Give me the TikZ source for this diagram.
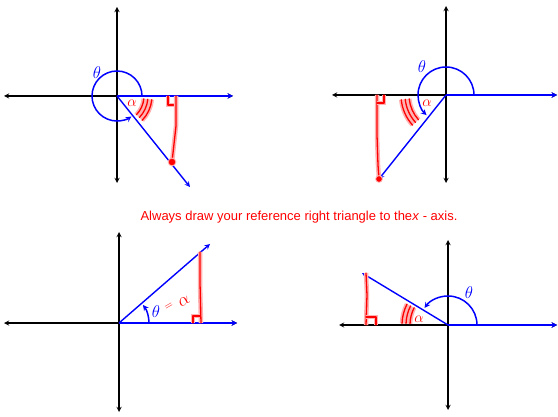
\RequirePackage{fix-cm}
\documentclass[tikz,border=0pt]{standalone}
\usepackage{fontspec}
\newfontfamily\notefont{Liberation Sans}
\begin{document}
\begin{tikzpicture}[>=stealth, x=1pt, y=1pt,
    axis/.style={<->, line width=1.3pt},
    ray/.style={->, blue, line width=1.4pt},
    anglearc/.style={->, blue, line width=1.5pt},
    marker/.style={red, line width=1.3pt, line cap=round, line join=round,
        preaction={draw=red!30, line width=4.5pt}},
    anglelabel/.style={blue, font=\fontsize{17}{19}\selectfont, inner sep=1pt},
    alphalabel/.style={red, font=\fontsize{15}{17}\selectfont, inner sep=0pt}]
    \useasboundingbox (0,0) rectangle (558,416);

    % Angle ending in quadrant IV
    \begin{scope}[shift={(117,320)}]
        \coordinate (OA) at (0,0);
        \draw[axis] (-113,0) -- (116,0);
        \draw[axis] (0,-87) -- (0,89);
        \draw[ray] (OA) -- (116,0);
        \draw[ray] (OA) -- (73,-91);
        \draw[anglearc] (25,0) arc[start angle=0, end angle=305, radius=25];
        \node[anglelabel] (thetaA) at (-20,23) {$\theta$};

        % Reference triangle
        \foreach \r in {27,31,35}
            \draw[marker] (-6:\r) arc[start angle=-6, end angle=-44, radius=\r];
        \node[alphalabel] (alphaA) at (15,-7) {$\alpha$};
        \draw[marker] (51,0) -- (51,-9) -- (59,-9);
        \draw[marker] (59,0) -- (59,-30) -- (57,-48) -- (55,-66);
        \filldraw[red, preaction={fill=red!30, draw=red!30, line width=2.5pt}] (55,-66) circle (3);
    \end{scope}

    % Angle ending in quadrant III
    \begin{scope}[shift={(446,321)}]
        \coordinate (OB) at (0,0);
        \draw[axis] (-114,0) -- (111,0);
        \draw[axis] (0,-88) -- (0,89);
        \draw[ray] (OB) -- (111,0);
        \draw[ray] (OB) -- (-67,-84);
        \draw[anglearc] (28,0) arc[start angle=0, end angle=226, radius=28];
        \node[anglelabel] (thetaB) at (-24,28) {$\theta$};

        % Reference triangle
        \foreach \r in {37,41,45}
            \draw[marker] (186:\r) arc[start angle=186, end angle=222, radius=\r];
        \node[alphalabel] (alphaB) at (-19,-8) {$\alpha$};
        \draw[marker] (-69,0) -- (-69,-40) -- (-68,-70) -- (-67,-84);
        \draw[marker] (-69,-8) -- (-62,-8) -- (-62,0);
        \filldraw[red, preaction={fill=red!30, draw=red!30, line width=2.5pt}] (-67,-84) circle (2.5);
    \end{scope}

    % Angle ending in quadrant I
    \begin{scope}[shift={(119,93)}]
        \coordinate (OC) at (0,0);
        \draw[axis] (-115,0) -- (118,0);
        \draw[axis] (0,-89) -- (0,91);
        \draw[ray] (OC) -- (118,0);
        \draw[ray] (OC) -- (91,79);
        \draw[anglearc] (30,0) arc[start angle=0, end angle=37, radius=30];
        \node[anglelabel] (thetaC) at (37,11) {$\theta$};

        % Reference triangle
        \node[alphalabel, rotate=30, font=\fontsize{11}{13}\selectfont] (equalsC) at (50,16) {$=$};
        \node[alphalabel, rotate=30, font=\fontsize{18}{20}\selectfont] (alphaC) at (65,22) {$\alpha$};
        \draw[marker] (81,71) -- (81,40) -- (82,0);
        \draw[marker] (74,0) -- (74,7) -- (81,7);
    \end{scope}

    % Angle ending in quadrant II
    \begin{scope}[shift={(448,91)}]
        \coordinate (OD) at (0,0);
        \draw[axis] (-109,0) -- (109,0);
        \draw[axis] (0,-85) -- (0,85);
        \draw[ray] (OD) -- (109,0);
        \draw[ray] (OD) -- (-86,52);
        \draw[anglearc] (29,0) arc[start angle=0, end angle=144, radius=29];
        \node[anglelabel] (thetaD) at (21,32) {$\theta$};

        % Reference triangle
        \foreach \r in {38,42,46}
            \draw[marker] (153:\r) arc[start angle=153, end angle=178, radius=\r];
        \node[alphalabel] (alphaD) at (-29,6) {$\alpha$};
        \draw[marker] (-82,52) -- (-81,30) -- (-82,0);
        \draw[marker] (-82,8) -- (-72,8) -- (-72,0);
    \end{scope}

    % Note
    \node[red, font=\notefont\fontsize{13}{15}\selectfont] (note) at (299,199)
        {Always draw your reference right triangle to the\textit{x} - axis.};
\end{tikzpicture}
\end{document}
